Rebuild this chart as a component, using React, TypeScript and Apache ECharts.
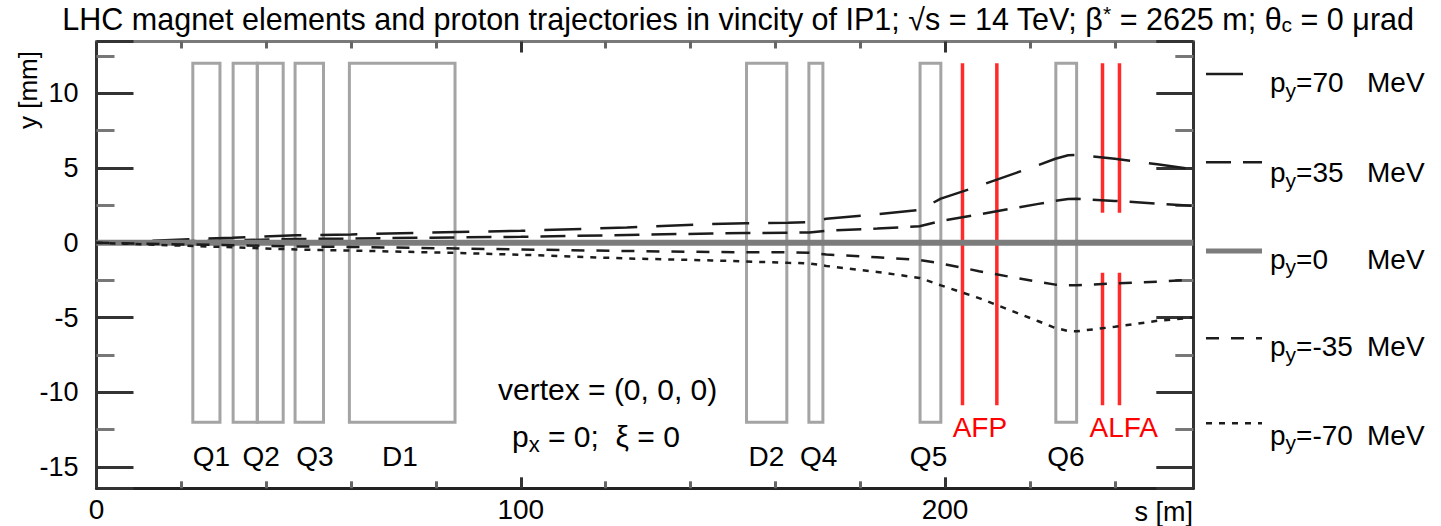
import React, { useEffect, useRef } from "react";
import * as echarts from "echarts";

const FONT = "'Liberation Sans', Arial, Helvetica, sans-serif";

// ---------------- data ----------------
// axis ranges
const sMin = 0;
const sMax = 258.5;
const yMin = -16.42;
const yMax = 13.46;

// proton trajectories: positions along beam line [m] and vertical offsets [mm]
const sPos = [0, 23, 32, 47, 60, 85, 100, 125, 145, 153, 163, 168, 172, 184, 194, 199, 208, 222, 226, 229, 231, 240, 250, 258.5];
const yPy70 = [0, 0.25, 0.33, 0.5, 0.56, 0.72, 0.8, 1.02, 1.25, 1.3, 1.34, 1.38, 1.6, 1.9, 2.2, 2.95, 3.8, 5.2, 5.62, 5.85, 5.88, 5.62, 5.25, 4.92];
const yPy35 = [0, 0.12, 0.16, 0.25, 0.28, 0.36, 0.4, 0.52, 0.62, 0.65, 0.67, 0.69, 0.8, 0.95, 1.1, 1.45, 1.9, 2.6, 2.8, 2.92, 2.94, 2.8, 2.62, 2.47];
const sPy0 = [0, 258.5];
const yPy0 = [0, 0];
const yPyM35 = [0, -0.12, -0.16, -0.25, -0.28, -0.38, -0.45, -0.55, -0.62, -0.63, -0.64, -0.66, -0.78, -0.97, -1.15, -1.38, -1.9, -2.62, -2.8, -2.84, -2.84, -2.72, -2.6, -2.47];
const yPyM70 = [0, -0.22, -0.3, -0.45, -0.52, -0.68, -0.8, -1.05, -1.18, -1.25, -1.34, -1.38, -1.55, -1.95, -2.35, -2.85, -3.7, -5.25, -5.7, -5.9, -5.92, -5.62, -5.22, -5.0];

// magnets
const magnetStart = [22.7, 32.2, 37.9, 46.8, 59.6, 153.2, 167.9, 194.1, 226.1];
const magnetEnd = [29.1, 37.9, 44.0, 53.5, 84.5, 162.7, 171.2, 199.0, 231.0];
const magnetTop = 12;
const magnetBottom = -12;
const magnetNames = ["Q1", "Q2", "Q3", "D1", "D2", "Q4", "Q5", "Q6"];
const magnetLabelS = [27.1, 38.8, 51.5, 71.5, 157.9, 170.2, 196.1, 228.5];
const magnetLabelY = -14.27;

// forward detector stations
const stationS = [204.1, 212.2, 237.1, 237.1, 241.1, 241.1];
const stationTop = [12, 12, 12, -2, 12, -2];
const stationBottom = [-10.86, -10.86, 2, -10.86, 2, -10.86];
const stationNames = ["AFP", "ALFA"];
const stationLabelS = [208.2, 242.1];
const stationLabelY = -12.33;

// legend
const legendMomenta = ["70", "35", "0", "-35", "-70"];

// ---------------- styles ----------------
const curveStyles = [
  { color: "#1c1c1c", width: 2.5, dash: [37, 19] as number[] | null },
  { color: "#1c1c1c", width: 2.5, dash: [25, 12] as number[] | null },
  { color: "#7c7c7c", width: 6, dash: null as number[] | null },
  { color: "#1c1c1c", width: 2.5, dash: [13, 12] as number[] | null },
  { color: "#1c1c1c", width: 2.5, dash: [6, 7] as number[] | null },
];
const legendLineY = [74, 162.3, 251, 338.3, 423.3];
const legendTextY = [82.5, 172.5, 259, 346.7, 435];

function pairs(xs: number[], ys: number[]) {
  return xs.map((x, i) => [x, ys[i]]);
}

function axisX(position: "bottom" | "top", showLabel: boolean, lineColor: string) {
  return {
    type: "value",
    position,
    min: sMin,
    max: sMax,
    splitNumber: 3,
    axisLine: { show: true, onZero: false, lineStyle: { color: lineColor, width: 3 } },
    axisTick: { show: true, inside: true, length: 11, lineStyle: { color: "#333", width: 3 } },
    minorTick: { show: true, splitNumber: 5, length: 7, lineStyle: { color: "#666", width: 3 } },
    axisLabel: {
      show: showLabel,
      fontSize: 28,
      fontFamily: FONT,
      color: "#000",
      margin: 7,
      showMaxLabel: false,
    },
    splitLine: { show: false },
    minorSplitLine: { show: false },
  };
}

function axisY(position: "left" | "right", showLabel: boolean) {
  return {
    type: "value",
    position,
    min: yMin,
    max: yMax,
    splitNumber: 6,
    axisLine: { show: true, onZero: false, lineStyle: { color: "#333", width: 3 } },
    axisTick: { show: true, inside: true, length: 37, lineStyle: { color: "#333", width: 3 } },
    minorTick: { show: true, splitNumber: 2, length: 18, lineStyle: { color: "#777", width: 3 } },
    axisLabel: {
      show: showLabel,
      fontSize: 27,
      fontFamily: FONT,
      color: "#000",
      margin: 18,
      showMinLabel: false,
      showMaxLabel: false,
    },
    splitLine: { show: false },
    minorSplitLine: { show: false },
  };
}

function textStyle(text: string, size: number, color: string, align: string, vAlign = "middle", extra: any = {}) {
  return {
    text,
    fill: color,
    fontSize: size,
    fontFamily: FONT,
    align,
    textAlign: align,
    verticalAlign: vAlign,
    textVerticalAlign: vAlign,
    ...extra,
  };
}

function buildOption() {
  const curves = [
    { name: "p_y=70 MeV", data: pairs(sPos, yPy70) },
    { name: "p_y=35 MeV", data: pairs(sPos, yPy35) },
    { name: "p_y=0 MeV", data: pairs(sPy0, yPy0) },
    { name: "p_y=-35 MeV", data: pairs(sPos, yPyM35) },
    { name: "p_y=-70 MeV", data: pairs(sPos, yPyM70) },
  ];

  const lineSeries = curves.map((c, i) => ({
    type: "line",
    name: c.name,
    data: c.data,
    xAxisIndex: 0,
    yAxisIndex: 0,
    symbol: "none",
    silent: true,
    z: 5,
    lineStyle: {
      color: curveStyles[i].color,
      width: curveStyles[i].width,
      type: curveStyles[i].dash ? curveStyles[i].dash : "solid",
      cap: "butt",
    },
  }));

  const subRich = (size: number) => ({
    sub: { fontSize: size, fontFamily: FONT, fill: "#000", color: "#000", lineHeight: 10, verticalAlign: "bottom" },
    sup: { fontSize: size, fontFamily: FONT, fill: "#000", color: "#000", lineHeight: 10, verticalAlign: "top" },
  });

  const legendElements: any[] = [];
  legendMomenta.forEach((m, i) => {
    const st = curveStyles[i];
    legendElements.push({
      type: "line",
      shape: { x1: 1206, y1: legendLineY[i], x2: 1262, y2: legendLineY[i] },
      style: { stroke: st.color, lineWidth: st.width === 6 ? 5 : st.width, lineDash: st.dash ? st.dash : null },
      silent: true,
    });
    legendElements.push({
      type: "text",
      x: 1270,
      y: legendTextY[i],
      style: textStyle(`p{sub|y}=${m}`, 28, "#000", "left", "middle", { lineHeight: 36, rich: subRich(21) }),
      silent: true,
    });
    legendElements.push({
      type: "text",
      x: 1367,
      y: legendTextY[i],
      style: textStyle("MeV", 28, "#000", "left", "middle", { lineHeight: 36 }),
      silent: true,
    });
  });

  return {
    animation: false,
    backgroundColor: "#ffffff",
    grid: {
      left: 96.5,
      right: 1441 - 1193.3,
      top: 41.5,
      bottom: 526 - 488.3,
      containLabel: false,
      outerBoundsMode: "none",
    },
    xAxis: [axisX("bottom", true, "#222"), axisX("top", false, "#7a7a7a")],
    yAxis: [axisY("left", true), axisY("right", false)],
    series: [
      {
        type: "custom",
        name: "magnets",
        xAxisIndex: 0,
        yAxisIndex: 0,
        silent: true,
        z: 2,
        encode: { x: [0, 1], y: [2, 3] },
        data: magnetStart.map((s, i) => [s, magnetEnd[i], magnetTop, magnetBottom]),
        renderItem: (params: any, api: any) => {
          const p1 = api.coord([api.value(0), api.value(2)]);
          const p2 = api.coord([api.value(1), api.value(3)]);
          return {
            type: "rect",
            shape: { x: p1[0], y: p1[1], width: p2[0] - p1[0], height: p2[1] - p1[1] },
            style: { fill: "none", stroke: "#a4a4a4", lineWidth: 3 },
          };
        },
      },
      {
        type: "custom",
        name: "stations",
        xAxisIndex: 0,
        yAxisIndex: 0,
        silent: true,
        z: 3,
        encode: { x: 0, y: [1, 2] },
        data: stationS.map((s, i) => [s, stationTop[i], stationBottom[i]]),
        renderItem: (params: any, api: any) => {
          const p1 = api.coord([api.value(0), api.value(1)]);
          const p2 = api.coord([api.value(0), api.value(2)]);
          return {
            type: "line",
            shape: { x1: p1[0], y1: p1[1], x2: p2[0], y2: p2[1] },
            style: { stroke: "#ff2a2a", lineWidth: 3.5 },
          };
        },
      },
      {
        type: "custom",
        name: "magnetLabels",
        xAxisIndex: 0,
        yAxisIndex: 0,
        silent: true,
        z: 4,
        encode: { x: 0, y: 1 },
        data: magnetLabelS.map((s) => [s, magnetLabelY]),
        renderItem: (params: any, api: any) => {
          const p = api.coord([api.value(0), api.value(1)]);
          return {
            type: "text",
            x: p[0],
            y: p[1],
            style: textStyle(magnetNames[params.dataIndex], 28, "#000", "center"),
          };
        },
      },
      {
        type: "custom",
        name: "stationLabels",
        xAxisIndex: 0,
        yAxisIndex: 0,
        silent: true,
        z: 4,
        encode: { x: 0, y: 1 },
        data: stationLabelS.map((s) => [s, stationLabelY]),
        renderItem: (params: any, api: any) => {
          const p = api.coord([api.value(0), api.value(1)]);
          return {
            type: "text",
            x: p[0],
            y: p[1],
            style: textStyle(stationNames[params.dataIndex], 28, "#ff0000", "center"),
          };
        },
      },
      ...lineSeries,
    ],
    graphic: {
      elements: [
        {
          type: "text",
          x: 738,
          y: 19,
          style: textStyle(
            "LHC magnet elements and proton trajectories in vincity of IP1; √s = 14 TeV; β{sup|*} = 2625 m; θ{sub|c} = 0 μrad",
            30.5,
            "#000",
            "center",
            "middle",
            { lineHeight: 32, rich: subRich(21) }
          ),
          silent: true,
        },
        {
          type: "text",
          x: 28,
          y: 90,
          rotation: Math.PI / 2,
          style: textStyle("y [mm]", 26, "#000", "center"),
          silent: true,
        },
        {
          type: "text",
          x: 1193,
          y: 512,
          style: textStyle("s [m]", 27, "#000", "right"),
          silent: true,
        },
        {
          type: "text",
          x: 498,
          y: 389,
          style: textStyle("vertex = (0, 0, 0)", 30, "#000", "left"),
          silent: true,
        },
        {
          type: "text",
          x: 512,
          y: 436,
          style: textStyle("p{sub|x} = 0;  ξ = 0", 30, "#000", "left", "middle", { lineHeight: 38, rich: subRich(22) }),
          silent: true,
        },
        ...legendElements,
      ],
    },
  };
}

export default function App() {
  const ref = useRef<HTMLDivElement>(null);
  useEffect(() => {
    if (!ref.current) return;
    const chart = echarts.init(ref.current, null, { renderer: "svg" });
    chart.setOption(buildOption() as any);
    return () => {
      chart.dispose();
    };
  }, []);
  return (
    <div
      ref={ref}
      style={{ position: "absolute", left: 0, top: 0, width: 1441, height: 526, background: "#fff" }}
    />
  );
}
